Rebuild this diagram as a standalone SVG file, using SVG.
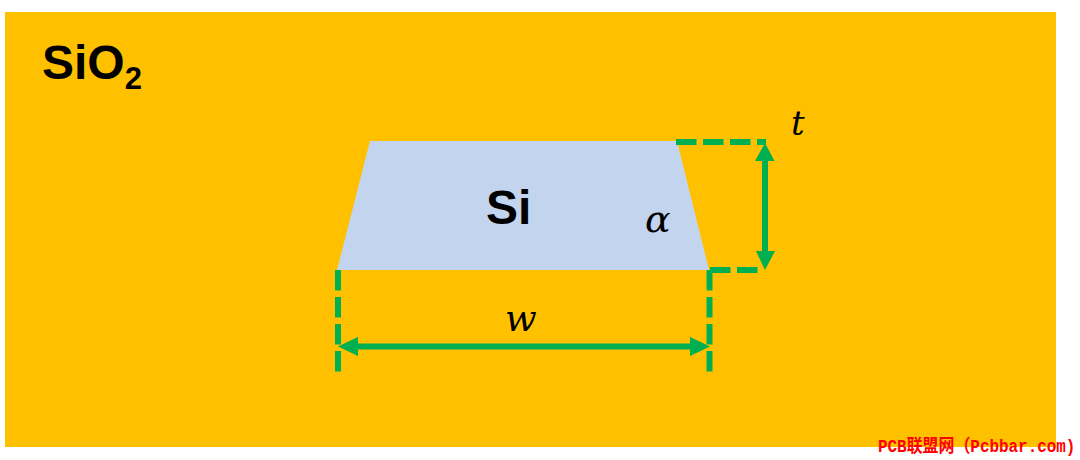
<svg xmlns="http://www.w3.org/2000/svg" width="1080" height="460" viewBox="0 0 1080 460">
<style>
.lbl{font-family:"Liberation Sans",Arial,sans-serif;font-weight:700;fill:#000}
.var{font-family:"DejaVu Serif","Liberation Serif",serif;font-style:italic;fill:#000}
.dash{fill:none;stroke:#00b050;stroke-width:6;stroke-dasharray:20.500 6.500}
.dim{fill:none;stroke:#00b050;stroke-width:6}
.head{fill:#00b050}
</style>
<rect width="1080" height="460" fill="#fff"/>
<rect id="oxide" x="5" y="12" width="1051" height="435" fill="#ffc000"/>
<g id="core"><polygon points="370,141 677,141 709,270 337,270" fill="#c3d4ef"/></g>
<g id="connectors">
<path class="dash" d="M676 142H766"/>
<path class="dash" d="M710 270H764"/>
<path class="dash" d="M338 270V372"/>
<path class="dash" d="M709.500 270V372"/>
<path class="dim" d="M765 158V254"/>
<polygon class="head" points="765,143 774.500,161 755,161"/>
<polygon class="head" points="765,270 756,251 775,251"/>
<path class="dim" d="M354 346.500H694"/>
<polygon class="head" points="338,346.500 358,337 358,356"/>
<polygon class="head" points="710,346.500 690,337 690,356"/>
</g>
<text class="lbl" x="42" y="79" font-size="48">SiO<tspan font-size="31" dy="10">2</tspan></text>
<text class="lbl" x="486" y="224" font-size="48">Si</text>
<text class="var" x="645" y="232" font-size="38">α</text>
<text class="var" x="791" y="135" font-size="34">t</text>
<text class="var" x="505" y="331" font-size="37">w</text>
<text transform="translate(878 452) scale(.885 1)" font-size="18" font-weight="700" fill="#f00" font-family="'Liberation Mono','Noto Sans CJK SC',monospace">PCB联盟网（Pcbbar.com)</text>
</svg>
